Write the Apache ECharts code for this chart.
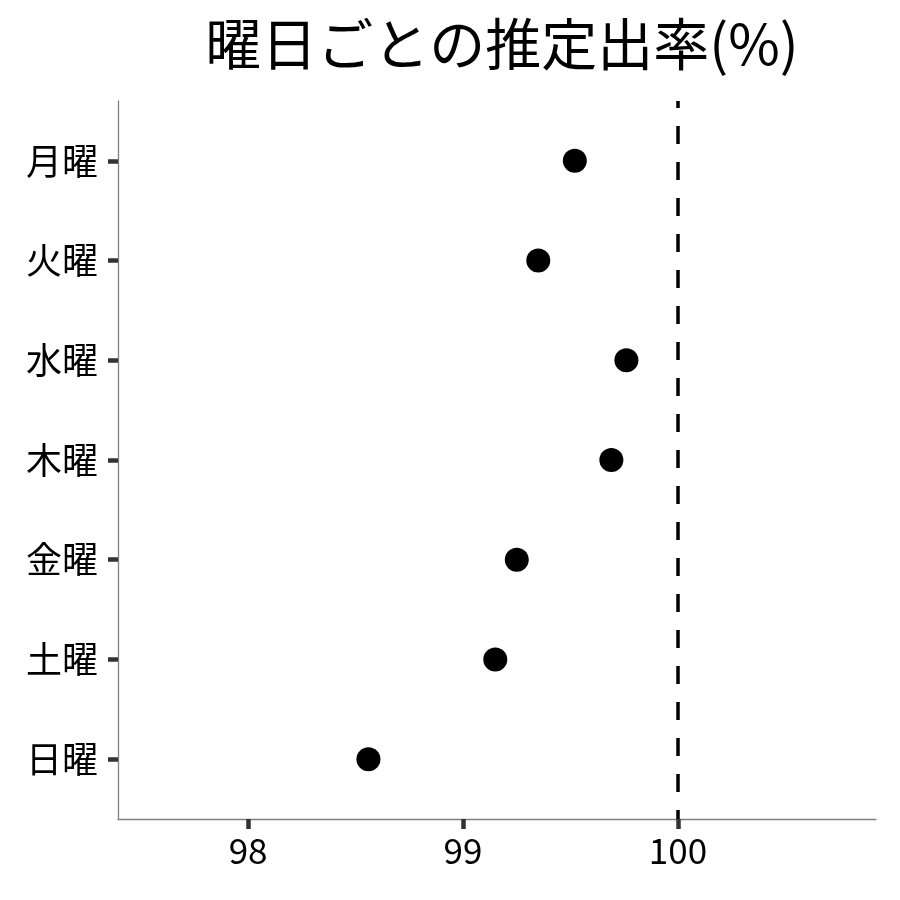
<!DOCTYPE html>
<html>
<head>
<meta charset="utf-8">
<script src="https://cdn.jsdelivr.net/npm/echarts@6/dist/echarts.min.js"></script>
<style>html,body{margin:0;padding:0;background:#fff}#c{width:900px;height:900px}</style>
</head>
<body>
<div id="c"></div>
<script>
const days = ['月曜','火曜','水曜','木曜','金曜','土曜','日曜'];
const rates = [99.52, 99.35, 99.76, 99.69, 99.25, 99.15, 98.56];
const xTicks = [98, 99, 100];
const refValue = 100;
const titleText = '曜日ごとの推定出率(%)';

const FONT = '"Noto Sans CJK JP", "Noto Sans", sans-serif';
const points = rates.map((v, i) => [v, i + 1]);
const dayPos = days.map((d, i) => i + 1);

const chart = echarts.init(document.getElementById('c'), null, {renderer: 'canvas'});
chart.setOption({
  animation: false,
  backgroundColor: '#fff',
  title: {
    text: titleText,
    left: 497,
    top: 11,
    textAlign: 'center',
    textStyle: {fontFamily: FONT, fontSize: 56, fontWeight: 'normal', color: '#000'}
  },
  grid: {left: 118, right: 24, top: 101, bottom: 81, containLabel: false},
  xAxis: {
    type: 'value',
    min: 97.395, max: 100.921,
    axisLine: {show: true, lineStyle: {color: '#808080', width: 1.3}},
    axisTick: {show: true, customValues: xTicks, length: 10, lineStyle: {color: '#333', width: 4.5}},
    axisLabel: {customValues: xTicks, fontFamily: FONT, fontSize: 35, color: '#000', margin: 14},
    splitLine: {show: false}
  },
  yAxis: {
    type: 'value',
    inverse: true,
    min: 0.4, max: 7.6,
    axisLine: {show: true, lineStyle: {color: '#808080', width: 1.3}},
    axisTick: {show: true, customValues: dayPos, length: 10, lineStyle: {color: '#333', width: 4.5}},
    axisLabel: {customValues: dayPos, fontFamily: FONT, fontSize: 36, color: '#000', margin: 20,
      formatter: v => days[Math.round(v) - 1] || ''},
    splitLine: {show: false}
  },
  series: [{
    type: 'scatter',
    data: points,
    symbolSize: 24,
    itemStyle: {color: '#000', opacity: 1},
    markLine: {
      silent: true,
      symbol: ['none', 'none'],
      label: {show: false},
      lineStyle: {color: '#000', width: 3.5, type: [18, 18], dashOffset: 11, opacity: 1},
      data: [{xAxis: refValue}]
    }
  }]
});
</script>
</body>
</html>
